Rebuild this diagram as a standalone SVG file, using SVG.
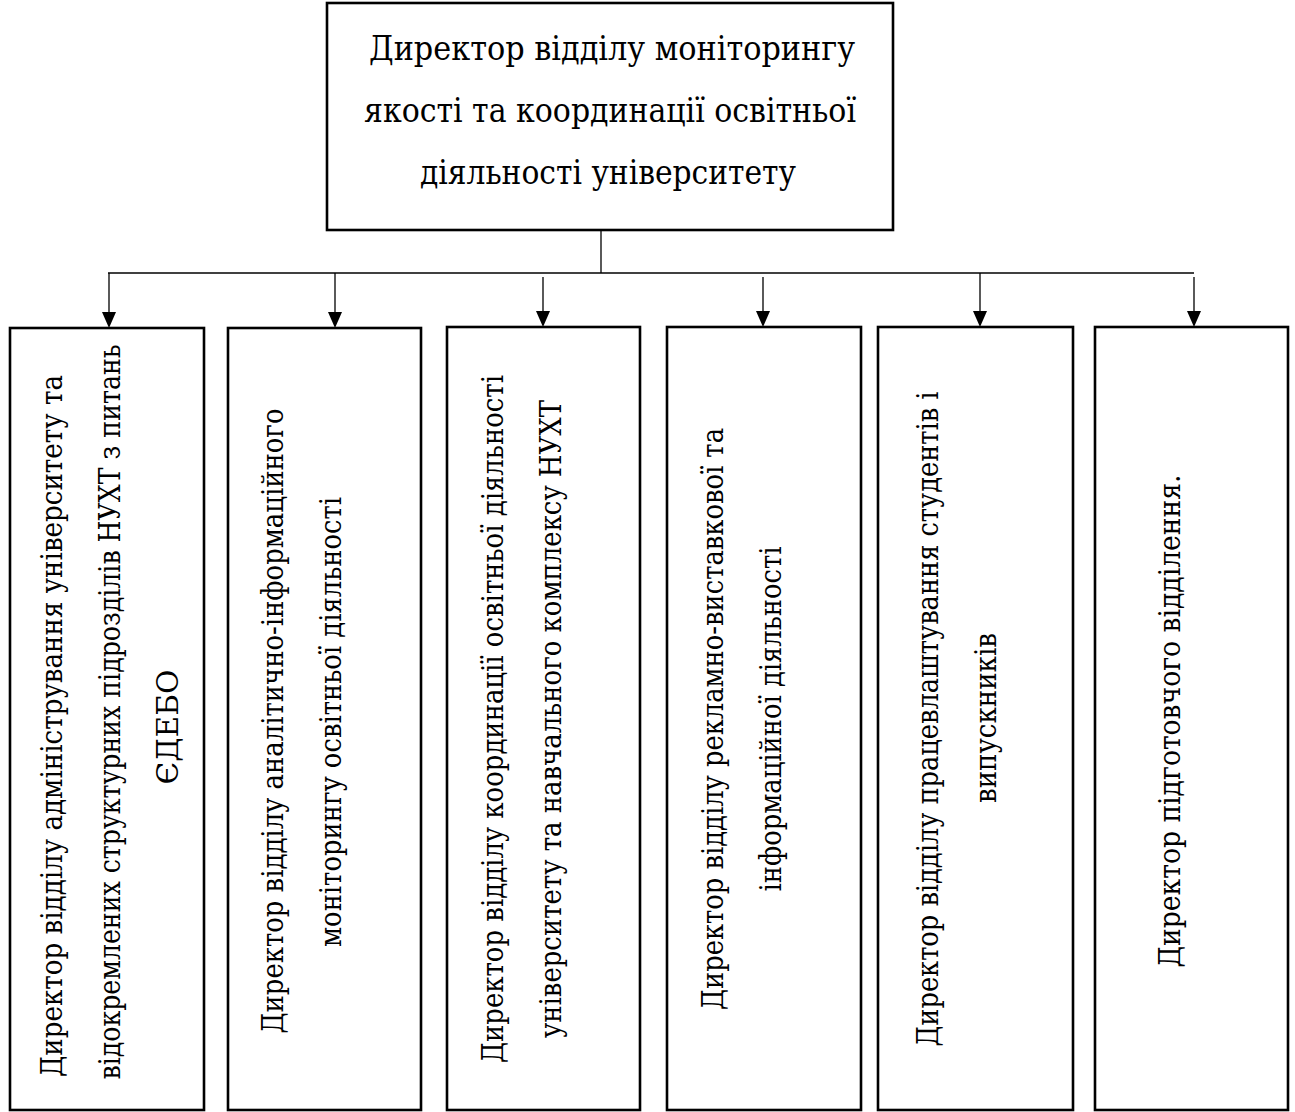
<svg xmlns="http://www.w3.org/2000/svg" width="1295" height="1112" viewBox="0 0 1295 1112">
  <style>
    .box { fill: #fff; stroke: #000; stroke-width: 2.6; }
    .lbl { font-family: "DejaVu Serif Condensed", "DejaVu Serif", serif; font-stretch: condensed; fill: #000; text-anchor: middle; }
    .top { font-size: 33px; }
    .vert { font-size: 30px; }
    .wire { fill: none; stroke: #000; stroke-width: 1.3; }
  </style>
  <rect width="1295" height="1112" fill="#fff"/>

  <!-- connectors: trunk, bus and six arrows down to the units -->
  <g id="connectors">
    <line class="wire" x1="601" y1="230" x2="601" y2="273"/>
    <line class="wire" x1="108" y1="273" x2="1194" y2="273"/>
    <g fill="#000">
      <line class="wire" x1="109" y1="273" x2="109" y2="313"/>
      <path d="M102,312 L116,312 L109,328 Z"/>
      <line class="wire" x1="335" y1="273" x2="335" y2="313"/>
      <path d="M328,312 L342,312 L335,328 Z"/>
      <line class="wire" x1="543" y1="277" x2="543" y2="313"/>
      <path d="M536,311 L550,311 L543,327 Z"/>
      <line class="wire" x1="763" y1="277" x2="763" y2="313"/>
      <path d="M756,311 L770,311 L763,327 Z"/>
      <line class="wire" x1="980" y1="273" x2="980" y2="313"/>
      <path d="M973,311 L987,311 L980,327 Z"/>
      <line class="wire" x1="1194" y1="277" x2="1194" y2="313"/>
      <path d="M1187,311 L1201,311 L1194,327 Z"/>
    </g>
  </g>

  <!-- head of department -->
  <g id="head">
    <rect class="box" x="327" y="3" width="566" height="227"/>
    <text class="lbl top" x="612" y="60" textLength="486" lengthAdjust="spacingAndGlyphs">Директор відділу моніторингу</text>
    <text class="lbl top" x="610" y="122" textLength="492" lengthAdjust="spacingAndGlyphs">якості та координації освітньої</text>
    <text class="lbl top" x="608" y="184" textLength="376" lengthAdjust="spacingAndGlyphs">діяльності університету</text>
  </g>

  <g id="unit1">
    <rect class="box" x="10" y="328" width="194" height="782"/>
    <text class="lbl vert" transform="translate(62,726) rotate(-90)" textLength="702" lengthAdjust="spacingAndGlyphs">Директор відділу адміністрування університету та</text>
    <text class="lbl vert" transform="translate(120,712) rotate(-90)" textLength="735" lengthAdjust="spacingAndGlyphs">відокремлених структурних підрозділів НУХТ з питань</text>
    <text class="lbl vert" transform="translate(178,727) rotate(-90)" textLength="115" lengthAdjust="spacingAndGlyphs">ЄДЕБО</text>
  </g>

  <g id="unit2">
    <rect class="box" x="228" y="328" width="193" height="782"/>
    <text class="lbl vert" transform="translate(283,721) rotate(-90)" textLength="625" lengthAdjust="spacingAndGlyphs">Директор відділу аналітично-інформаційного</text>
    <text class="lbl vert" transform="translate(341,722) rotate(-90)" textLength="450" lengthAdjust="spacingAndGlyphs">моніторингу освітньої діяльності</text>
  </g>

  <g id="unit3">
    <rect class="box" x="447" y="327" width="193" height="783"/>
    <text class="lbl vert" transform="translate(503,719) rotate(-90)" textLength="688" lengthAdjust="spacingAndGlyphs">Директор відділу координації освітньої діяльності</text>
    <text class="lbl vert" transform="translate(561,719) rotate(-90)" textLength="638" lengthAdjust="spacingAndGlyphs">університету та навчального комплексу НУХТ</text>
  </g>

  <g id="unit4">
    <rect class="box" x="667" y="327" width="194" height="783"/>
    <text class="lbl vert" transform="translate(723,719) rotate(-90)" textLength="582" lengthAdjust="spacingAndGlyphs">Директор відділу рекламно-виставкової та</text>
    <text class="lbl vert" transform="translate(781,719) rotate(-90)" textLength="345" lengthAdjust="spacingAndGlyphs">інформаційної діяльності</text>
  </g>

  <g id="unit5">
    <rect class="box" x="878" y="327" width="195" height="783"/>
    <text class="lbl vert" transform="translate(938,719) rotate(-90)" textLength="655" lengthAdjust="spacingAndGlyphs">Директор відділу працевлаштування студентів і</text>
    <text class="lbl vert" transform="translate(996,718) rotate(-90)" textLength="170" lengthAdjust="spacingAndGlyphs">випускників</text>
  </g>

  <g id="unit6">
    <rect class="box" x="1095" y="327" width="193" height="783"/>
    <text class="lbl vert" transform="translate(1180,721) rotate(-90)" textLength="493" lengthAdjust="spacingAndGlyphs">Директор підготовчого відділення.</text>
  </g>
</svg>
